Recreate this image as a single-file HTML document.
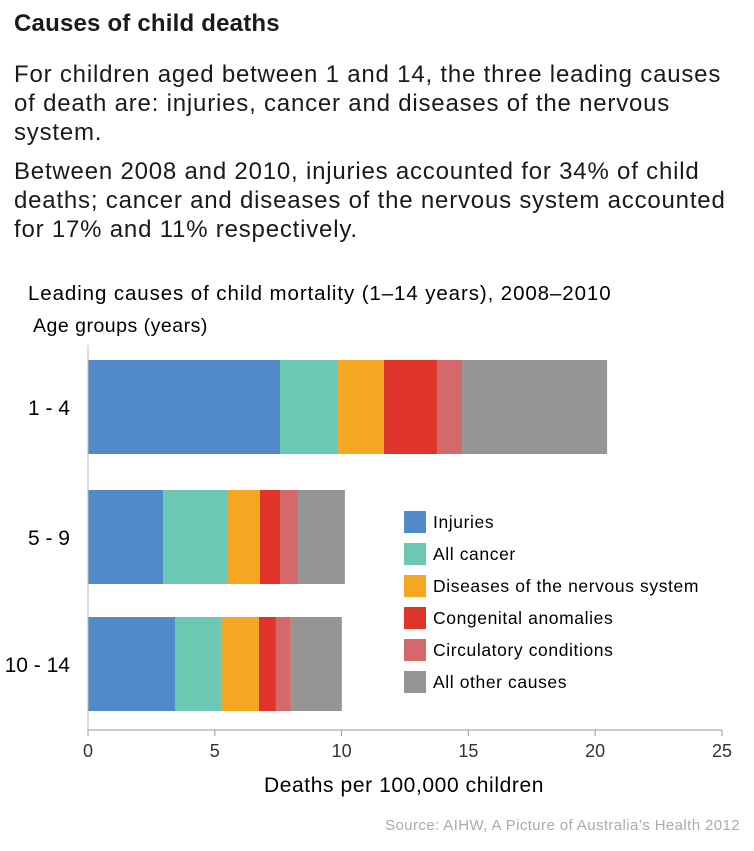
<!DOCTYPE html>
<html><head><meta charset="utf-8"><style>
body{margin:0;background:#fff;font-family:"Liberation Sans",sans-serif;color:#1a1a1a}
.wrap{position:relative;width:754px;height:851px;overflow:hidden}
h1{position:absolute;left:14px;top:10px;margin:0;font-size:24px;font-weight:bold;letter-spacing:0.2px}
p{position:absolute;left:14px;margin:0;font-size:24px;line-height:29px;width:745px;letter-spacing:0.8px;white-space:nowrap}
</style></head><body><div class="wrap">
<h1>Causes of child deaths</h1>
<p style="top:60px">For children aged between 1 and 14, the three leading causes<br>of death are: injuries, cancer and diseases of the nervous<br>system.</p>
<p style="top:157px">Between 2008 and 2010, injuries accounted for 34% of child<br>deaths; cancer and diseases of the nervous system accounted<br>for 17% and 11% respectively.</p>
<svg id="c" width="754" height="851" style="position:absolute;left:0;top:0"></svg>
</div>
<script>
const categories=["1 - 4","5 - 9","10 - 14"];
const seriesNames=["Injuries","All cancer","Diseases of the nervous system","Congenital anomalies","Circulatory conditions","All other causes"];
const injuries=[7.57,2.96,3.43];
const cancer=[2.29,2.56,1.85];
const nervous=[1.81,1.26,1.46];
const congenital=[2.09,0.79,0.67];
const circulatory=[0.99,0.71,0.59];
const other=[5.72,1.85,2.01];
const ticks=[0,5,10,15,20,25];
const colors=["#5189c9","#6dc8b3","#f5a623","#df3429","#d3696b","#959595"];
const series=[injuries,cancer,nervous,congenital,circulatory,other];
const NS="http://www.w3.org/2000/svg",svg=document.getElementById('c');
const x=v=>88+v*(634/25);
const barTop=[360,490,617],barH=94;
function el(t,a,txt){const e=document.createElementNS(NS,t);for(const k in a)e.setAttribute(k,a[k]);if(txt!=null)e.textContent=txt;svg.appendChild(e);return e;}
let t=el('text',{x:28,y:300,'font-size':20.5,'letter-spacing':0.9},"Leading causes of child mortality (1–14 years), 2008–2010");


t=el('text',{x:33,y:332,'font-size':19.5,'letter-spacing':0.5},"Age groups (years)");


categories.forEach((c,i)=>{
  let acc=0;
  series.forEach((s,j)=>{
    const r=el('rect',{x:x(acc),y:barTop[i],width:x(acc+s[i])-x(acc),height:barH,fill:colors[j]});
    
    
    acc+=s[i];
  });
  const l=el('text',{x:70,y:barTop[i]+barH/2+8,'font-size':21,'text-anchor':'end'},c);
  
  
});
let a=el('line',{x1:88,y1:345,x2:88,y2:730,stroke:'#bbb','stroke-width':1});


a=el('line',{x1:88,y1:730,x2:722,y2:730,stroke:'#999','stroke-width':1});


ticks.forEach(v=>{
  const tk=el('line',{x1:x(v),y1:730,x2:x(v),y2:736,stroke:'#999'});
  
  
  const tl=el('text',{x:x(v),y:757,'font-size':18,'text-anchor':'middle',fill:'#333'},v);
  
  
});
t=el('text',{x:404,y:792,'font-size':21,'letter-spacing':0.6,'text-anchor':'middle'},"Deaths per 100,000 children");


seriesNames.forEach((n,j)=>{
  const cy=522+j*32;
  const sw=el('rect',{x:404,y:cy-11,width:22,height:22,fill:colors[j]});
  
  
  const lt=el('text',{x:433,y:cy+6,'font-size':17.5,'letter-spacing':0.6},n);
  
  
});
t=el('text',{x:740,y:830,'font-size':15,'letter-spacing':0.4,'text-anchor':'end',fill:'#aaa'},"Source: AIHW, A Picture of Australia’s Health 2012");


</script></body></html>
